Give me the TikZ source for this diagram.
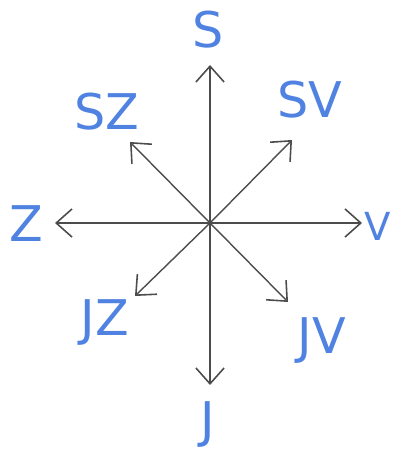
\documentclass[tikz,border=0pt]{standalone}
\usepackage{fontspec}
\setsansfont{DejaVu Sans}
\usetikzlibrary{arrows.meta}
\definecolor{inkblue}{RGB}{80,130,225}
\begin{document}
\begin{tikzpicture}[x=0.02cm, y=-0.02cm,
    dir arrow/.style={draw=black!70, line width=#1, -{Straight Barb[length=9pt, width=16pt, line width=0.9pt]}},
    dir label/.style={text=inkblue, font=\sffamily\fontsize{28}{28}\selectfont, inner sep=0pt}
]
\useasboundingbox (0,0) rectangle (392,455);
% Compass rose with eight directions
\coordinate (c) at (210,223);
\coordinate (n) at (210,65);
\coordinate (s) at (210,385);
\coordinate (w) at (55,223);
\coordinate (e) at (362,223);
\coordinate (nw) at (130,142);
\coordinate (ne) at (292,140);
\coordinate (sw) at (135,296);
\coordinate (se) at (288,302);

\draw [dir arrow=1.6pt] (c) -- (n);
\draw [dir arrow=1.6pt] (c) -- (s);
\draw [dir arrow=0.8pt] (c) -- (w);
\draw [dir arrow=0.8pt] (c) -- (e);
\draw [dir arrow=0.8pt] (c) -- (nw);
\draw [dir arrow=0.8pt] (c) -- (ne);
\draw [dir arrow=0.8pt] (c) -- (sw);
\draw [dir arrow=0.8pt] (c) -- (se);

\node [dir label] (ln) at (208,30) {S};
\node [dir label] (lnw) at (107,112) {SZ};
\node [dir label] (lne) at (310,100) {SV};
\node [dir label] (lw) at (26,224) {Z};
\node [dir label, font=\sffamily\fontsize{22}{22}\selectfont, anchor=east] (le) at (391,226) {V};
\node [dir label] (lsw) at (105,322) {JZ};
\node [dir label] (lse) at (322,340) {JV};
\node [dir label] (ls) at (208,424) {J};

\end{tikzpicture}
\end{document}
